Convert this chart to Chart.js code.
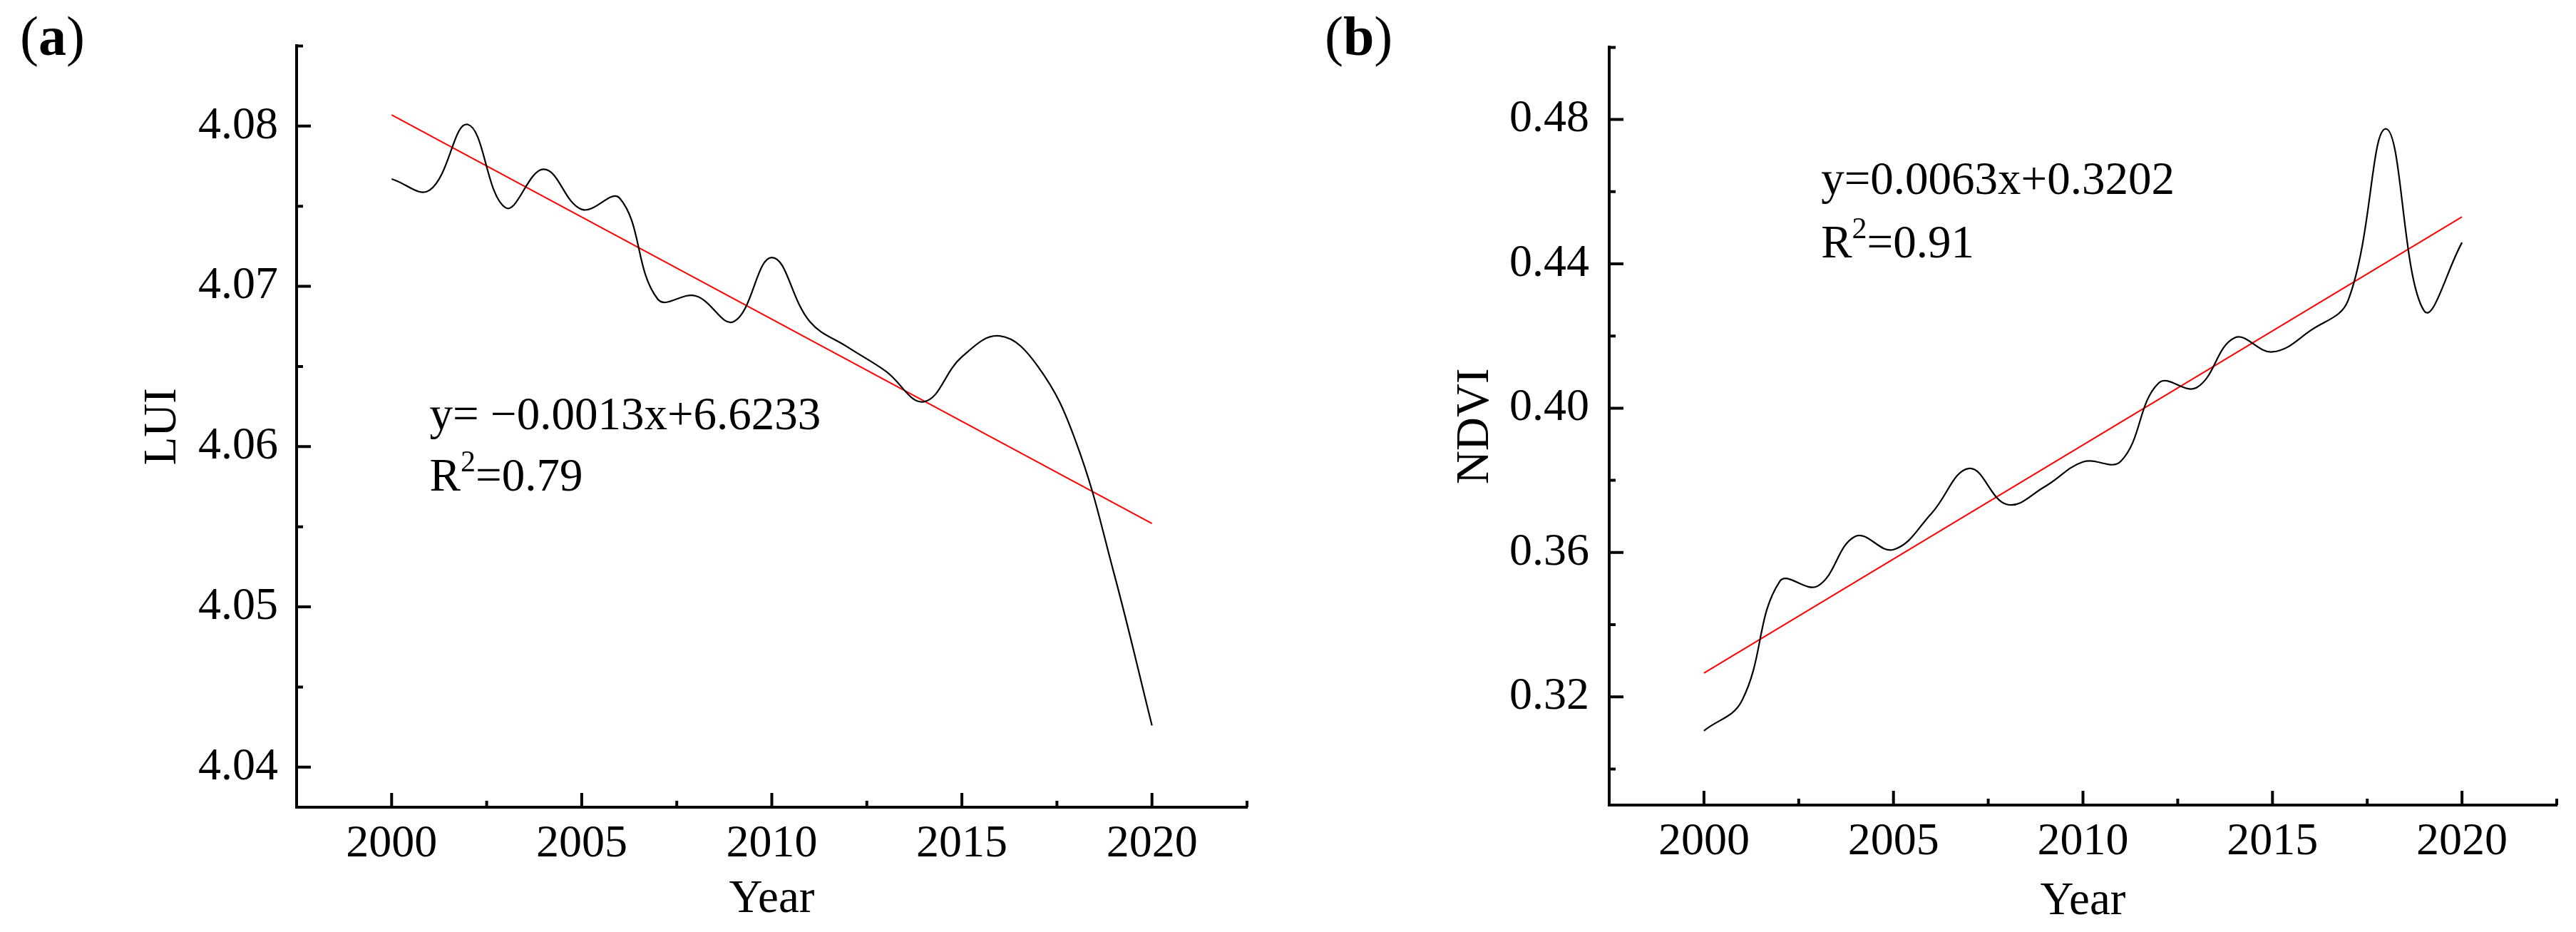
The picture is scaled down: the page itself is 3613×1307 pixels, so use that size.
<!DOCTYPE html>
<html>
<head>
<meta charset="utf-8">
<script src="https://cdn.jsdelivr.net/npm/chart.js@4.4.1/dist/chart.umd.min.js"></script>
<style>
  html, body { margin: 0; padding: 0; background: #fff; }
  #wrap { position: relative; width: 3613px; height: 1307px; overflow: hidden; background: #fff; }
  .panel { position: absolute; top: 0; }
</style>
</head>
<body>
<div id="wrap">
  <div class="panel" style="left:0"><canvas id="chartA" width="1800" height="1307"></canvas></div>
  <div class="panel" style="left:1800px"><canvas id="chartB" width="1813" height="1307"></canvas></div>
</div>
<script>
// ---- data ----
const years = [2000, 2001, 2002, 2003, 2004, 2005, 2006, 2007, 2008, 2009, 2010,
               2011, 2012, 2013, 2014, 2015, 2016, 2017, 2018, 2019, 2020];

const luiValues = [4.0767, 4.0760, 4.0801, 4.0749, 4.0773, 4.0748, 4.0755, 4.0692, 4.0694, 4.0678, 4.0718,
                   4.0678, 4.0662, 4.0647, 4.0628, 4.0656, 4.0669, 4.0650, 4.0603, 4.0521, 4.0426];

const ndviValues = [0.3106, 0.3189, 0.3520, 0.3507, 0.3645, 0.3608, 0.3708, 0.3833, 0.3733, 0.3783, 0.3851,
                    0.3853, 0.4070, 0.4057, 0.4195, 0.4156, 0.4215, 0.4300, 0.4774, 0.4270, 0.4459];

// linear fits, drawn between first and last year
const trendYears = [2000, 2020];
const luiTrend = [4.0807, 4.0552];
const ndviTrend = [0.3266, 0.4530];

// axis ticks
const yearTicks = [2000, 2005, 2010, 2015, 2020];
const yearMinorTicks = [2002.5, 2007.5, 2012.5, 2017.5, 2022.5];
const luiTicks = [4.04, 4.05, 4.06, 4.07, 4.08];
const luiMinorTicks = [4.045, 4.055, 4.065, 4.075, 4.085];
const ndviTicks = [0.32, 0.36, 0.40, 0.44, 0.48];
const ndviMinorTicks = [0.30, 0.34, 0.38, 0.42, 0.46, 0.50];

const fontFamily = "'Liberation Serif', 'Times New Roman', serif";

// inward tick marks, regression note and panel letter
const figureExtras = {
  id: 'figureExtras',
  afterDraw(chart, args, opts) {
    const {ctx, chartArea: area, scales: {x, y}} = chart;
    ctx.save();
    ctx.strokeStyle = '#000';
    ctx.lineWidth = 4;
    ctx.beginPath();
    opts.xMajor.forEach(v => {
      const px = x.getPixelForValue(v);
      ctx.moveTo(px, area.bottom); ctx.lineTo(px, area.bottom - 20);
    });
    opts.xMinor.forEach(v => {
      const px = x.getPixelForValue(v);
      ctx.moveTo(px, area.bottom); ctx.lineTo(px, area.bottom - 9);
    });
    opts.yMajor.forEach(v => {
      const py = y.getPixelForValue(v);
      ctx.moveTo(area.left, py); ctx.lineTo(area.left + 20, py);
    });
    opts.yMinor.forEach(v => {
      const py = y.getPixelForValue(v);
      ctx.moveTo(area.left, py); ctx.lineTo(area.left + 9, py);
    });
    ctx.stroke();

    // equation and R squared
    ctx.fillStyle = '#000';
    ctx.textAlign = 'left';
    ctx.textBaseline = 'alphabetic';
    const nx = x.getPixelForValue(opts.noteYear);
    ctx.font = `65px ${fontFamily}`;
    ctx.fillText(opts.equation, nx, y.getPixelForValue(opts.noteValue));
    const ry = y.getPixelForValue(opts.r2Value);
    ctx.fillText('R', nx, ry);
    let w = ctx.measureText('R').width;
    ctx.font = `42px ${fontFamily}`;
    ctx.fillText('2', nx + w, ry - 27);
    w += ctx.measureText('2').width;
    ctx.font = `65px ${fontFamily}`;
    ctx.fillText('=' + opts.r2, nx + w, ry);

    // panel letter: plain brackets, bold letter
    let lx = opts.letterX;
    ctx.font = `78px ${fontFamily}`;
    ctx.fillText('(', lx, 77);
    lx += ctx.measureText('(').width;
    ctx.font = `bold 78px ${fontFamily}`;
    ctx.fillText(opts.letter, lx, 77);
    lx += ctx.measureText(opts.letter).width;
    ctx.font = `78px ${fontFamily}`;
    ctx.fillText(')', lx, 77);
    ctx.restore();
  }
};

function makePanel(id, p) {
  const curve = years.map((yr, i) => ({x: yr, y: p.values[i]}));
  const trend = trendYears.map((yr, i) => ({x: yr, y: p.trend[i]}));
  return new Chart(document.getElementById(id), {
    type: 'line',
    data: {
      datasets: [
        {data: curve, borderColor: '#000', borderWidth: 2.2, pointRadius: 0, tension: 0.4, fill: false},
        {data: trend, borderColor: '#ff0000', borderWidth: 2, pointRadius: 0, tension: 0, fill: false}
      ]
    },
    options: {
      responsive: false,
      animation: false,
      devicePixelRatio: 1,
      layout: {padding: p.padding},
      scales: {
        x: {
          type: 'linear',
          min: 1997.5,
          max: 2022.5,
          afterBuildTicks: s => { s.ticks = yearTicks.map(v => ({value: v})); },
          afterFit: s => { s.height = p.xBoxHeight; },
          grid: {display: false, drawTicks: false},
          border: {display: true, color: '#000', width: 4},
          ticks: {color: '#000', padding: 14, font: {family: fontFamily, size: 64}, callback: v => String(v)},
          title: {display: true, text: 'Year', color: '#000', padding: {top: 0, bottom: p.xTitlePad},
                  font: {family: fontFamily, size: 65}}
        },
        y: {
          type: 'linear',
          min: p.yMin,
          max: p.yMax,
          afterBuildTicks: s => { s.ticks = p.yTicks.map(v => ({value: v})); },
          afterFit: s => { s.width = p.yBoxWidth; },
          grid: {display: false, drawTicks: false},
          border: {display: true, color: '#000', width: 4},
          ticks: {color: '#000', padding: p.yTickPad, font: {family: fontFamily, size: 64}, callback: v => v.toFixed(2)},
          title: {display: true, text: p.yTitle, color: '#000', padding: {top: p.yTitlePad, bottom: 0},
                  font: {family: fontFamily, size: 65}}
        }
      },
      plugins: {
        legend: {display: false},
        tooltip: {enabled: false},
        figureExtras: {
          xMajor: yearTicks, xMinor: yearMinorTicks,
          yMajor: p.yTicks, yMinor: p.yMinor,
          equation: p.equation, r2: p.r2,
          noteYear: p.noteYear, noteValue: p.noteValue, r2Value: p.r2Value,
          letter: p.letter, letterX: p.letterX
        }
      }
    },
    plugins: [figureExtras]
  });
}

makePanel('chartA', {
  values: luiValues, trend: luiTrend,
  yMin: 4.0375, yMax: 4.085, yTicks: luiTicks, yMinor: luiMinorTicks,
  yTitle: 'LUI', yTitlePad: 190, yTickPad: 26, xTitlePad: 6,
  padding: {left: 0, top: 58, right: 51, bottom: 0},
  yBoxWidth: 416, xBoxHeight: 175,
  equation: 'y= \u22120.0013x+6.6233', r2: '0.79',
  noteYear: 2001, noteValue: 4.0611, r2Value: 4.05725,
  letter: 'a', letterX: 28
});

makePanel('chartB', {
  values: ndviValues, trend: ndviTrend,
  yMin: 0.29, yMax: 0.50, yTicks: ndviTicks, yMinor: ndviMinorTicks,
  yTitle: 'NDVI', yTitlePad: 231, yTickPad: 28, xTitlePad: 3,
  padding: {left: 0, top: 55, right: 27, bottom: 0},
  yBoxWidth: 457, xBoxHeight: 178,
  equation: 'y=0.0063x+0.3202', r2: '0.91',
  noteYear: 2003.09, noteValue: 0.4593, r2Value: 0.4418,
  letter: 'b', letterX: 58
});
</script>
</body>
</html>
